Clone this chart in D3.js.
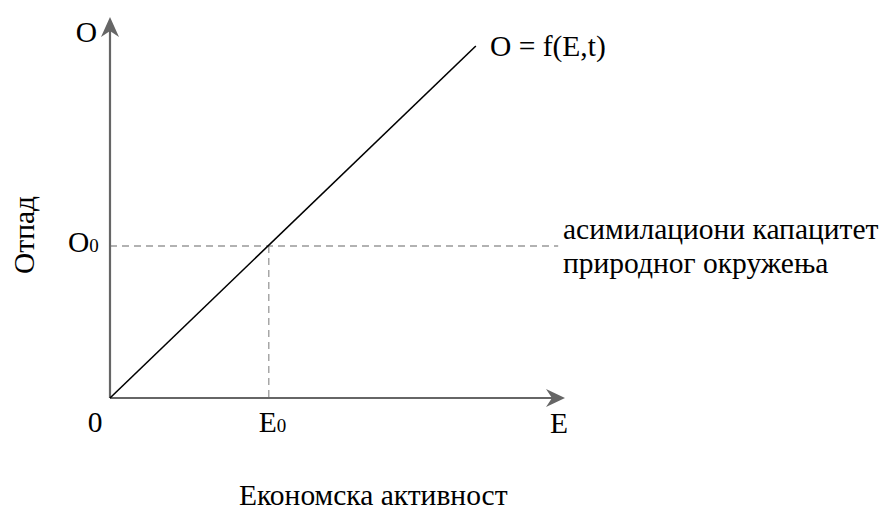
<!DOCTYPE html>
<html><head><meta charset="utf-8">
<script src="https://cdn.jsdelivr.net/npm/d3@7"></script>
<style>body{margin:0;background:#fff}</style>
</head><body><svg id="c" width="880" height="512"></svg>
<script>
// data (in chart units)
const axisMax = {E: 1, O: 1};
const lineE = [0, 0.804];
const lineO = [0, 0.924];
const E0 = 0.349;
const O0 = 0.399;
const capacityEnd = 0.985;
const xTickLabels = ["0", "E", "E"];
const capacityLabel = ["асимилациони капацитет", "природног окружења"];
const funcLabel = "O = f(E,t)";
const xTitle = "Економска активност";
const yTitle = "Отпад";

const FONT = "'Liberation Serif', 'Times New Roman', Times, serif";
const svg = d3.select("#c");
const x = d3.scaleLinear().domain([0, axisMax.E]).range([110, 565]);
const y = d3.scaleLinear().domain([0, axisMax.O]).range([398, 17]);
const axisCol = "#666";
const fs = 29.5;

// dashed guides
svg.append("line").attr("x1", x(0)).attr("x2", x(capacityEnd)).attr("y1", y(O0)).attr("y2", y(O0))
  .attr("stroke", "#999").attr("stroke-width", 1.3).attr("stroke-dasharray", "7,5");
svg.append("line").attr("x1", x(E0)).attr("x2", x(E0)).attr("y1", y(O0)).attr("y2", y(0))
  .attr("stroke", "#999").attr("stroke-width", 1.3).attr("stroke-dasharray", "7,5");

// axes
svg.append("line").attr("x1", x(0)).attr("x2", x(axisMax.E) - 4).attr("y1", y(0)).attr("y2", y(0))
  .attr("stroke", axisCol).attr("stroke-width", 2.2);
svg.append("line").attr("x1", x(0)).attr("x2", x(0)).attr("y1", y(0)).attr("y2", y(axisMax.O) + 4)
  .attr("stroke", axisCol).attr("stroke-width", 2.2);
const tx = x(axisMax.E), ty = y(0);
svg.append("path").attr("d", `M${tx},${ty} L${tx-19},${ty-9} L${tx-13},${ty} L${tx-19},${ty+9} Z`).attr("fill", axisCol);
const ux = x(0), uy = y(axisMax.O);
svg.append("path").attr("d", `M${ux},${uy} L${ux-9},${uy+20} L${ux},${uy+14} L${ux+9},${uy+20} Z`).attr("fill", axisCol);

// function line
svg.append("path").datum(d3.zip(lineE, lineO))
  .attr("d", d3.line().x(d => x(d[0])).y(d => y(d[1])))
  .attr("stroke", "#000").attr("stroke-width", 1.6).attr("fill", "none");

function T(xp, yp, size) {
  return svg.append("text").attr("x", xp).attr("y", yp).attr("font-size", size)
    .attr("font-family", FONT).attr("fill", "#000");
}
T(x(0) - 13, 42, fs).attr("text-anchor", "end").text("O");
const o0 = T(68, y(O0) + 6, fs);
o0.append("tspan").text("O"); o0.append("tspan").attr("font-size", 19).text("0");
T(x(0) - 15, 432, fs).attr("text-anchor", "middle").text(xTickLabels[0]);
const e0 = T(x(E0) - 10, 432, fs);
e0.append("tspan").text(xTickLabels[1]); e0.append("tspan").attr("font-size", 19).text("0");
T(550, 433, fs).text(xTickLabels[2]);
T(490, 56, fs).text(funcLabel);
T(563, 239, fs).text(capacityLabel[0]);
T(563, 273, fs).text(capacityLabel[1]);
svg.append("text").attr("transform", "translate(34,235) rotate(-90)").attr("text-anchor", "middle")
  .attr("font-size", fs).attr("font-family", FONT).text(yTitle);
T(239, 505, fs).text(xTitle);
</script></body></html>
